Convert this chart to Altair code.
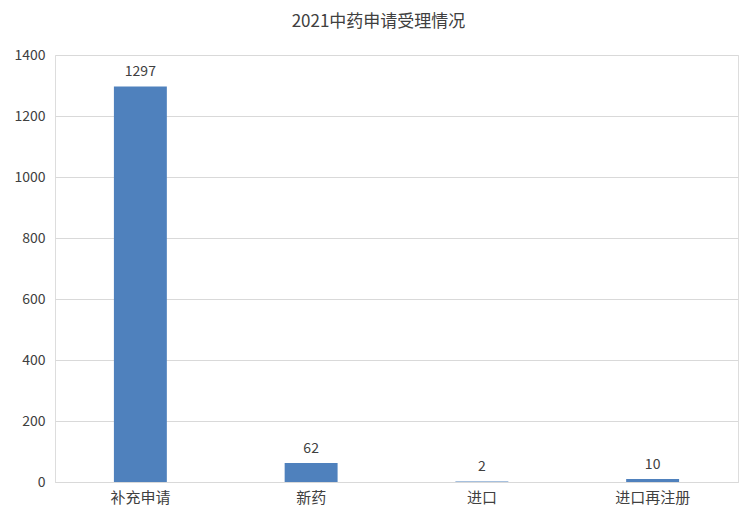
import altair as alt
import pandas as pd

categories = ["补充申请", "新药", "进口", "进口再注册"]
values = [1297, 62, 2, 10]

df = pd.DataFrame({"cat": categories, "val": values})
FONT = "Noto Sans CJK SC"

base = alt.Chart(df).encode(
    x=alt.X("cat:N", sort=categories, title=None,
            scale=alt.Scale(paddingInner=0.69, paddingOuter=0.345),
            axis=alt.Axis(labelAngle=0, labelFontSize=15, labelColor="#404040",
                          labelFont=FONT, ticks=False, domainColor="#D9D9D9",
                          labelPadding=8, grid=False)),
    y=alt.Y("val:Q", title=None,
            scale=alt.Scale(domain=[0, 1400]),
            axis=alt.Axis(values=list(range(0, 1401, 200)), format="d",
                          labelFontSize=14,
                          labelColor="#404040", labelFont=FONT, ticks=False,
                          domain=False, gridColor="#D9D9D9", labelPadding=10)),
)

bars = base.mark_bar(color="#4F81BD")
labels = base.mark_text(dy=-14, fontSize=14, color="#404040", font=FONT).encode(
    text="val:Q")

chart = (bars + labels).properties(
    width=683, height=427,
    autosize=alt.AutoSizeParams(type="none"),
    padding={"left": 47, "top": 47, "right": 10, "bottom": 35},
    title=alt.TitleParams("2021中药申请受理情况", font=FONT, fontSize=17,
                          fontWeight="normal", color="#404040", offset=17, dx=-18),
).configure_view(stroke=None).configure(background="white")

chart.save("out.html", embed_options={"renderer": "svg", "actions": False})
